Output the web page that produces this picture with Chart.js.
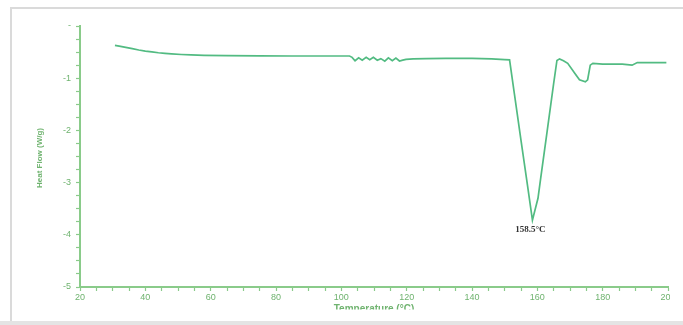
<!DOCTYPE html>
<html>
<head>
<meta charset="utf-8">
<script src="https://cdn.jsdelivr.net/npm/chart.js@4/dist/chart.umd.min.js"></script>
<style>
  html, body { margin: 0; padding: 0; background: #ffffff; }
  #wrap { position: relative; width: 683px; height: 325px; }
  canvas { display: block; }
</style>
</head>
<body>
<div id="wrap"><canvas id="dsc" width="683" height="325"></canvas></div>
<script>
// DSC thermogram: heat flow vs temperature
const temperatures = [
  30.7, 32, 34, 36, 38, 40, 42, 44, 46, 48, 51, 54, 58, 65, 75, 85, 95, 102.5,
  103.3, 104.2, 105.3, 106.4, 107.6, 108.7, 109.8, 111, 112.1, 113.3, 114.4, 115.6, 116.7, 117.8, 118.8, 119.8,
  122, 126, 132, 140, 146, 150, 151.5,
  153, 155, 157, 158.5, 160.2, 161, 163, 165, 166,
  166.8, 168, 169.3, 171.4, 172.9, 174.7, 175.4, 176.2, 177, 180, 186, 189, 190.6, 199.5
];
const heatFlow = [
  -0.37, -0.385, -0.41, -0.435, -0.46, -0.48, -0.497, -0.512, -0.524, -0.534, -0.546, -0.554, -0.562, -0.569, -0.574, -0.575, -0.575, -0.575,
  -0.60, -0.665, -0.61, -0.655, -0.60, -0.645, -0.60, -0.655, -0.625, -0.675, -0.61, -0.665, -0.615, -0.67, -0.655, -0.64,
  -0.63, -0.625, -0.62, -0.62, -0.63, -0.645, -0.65,
  -1.31, -2.19, -3.06, -3.72, -3.30, -2.93, -2.02, -1.10, -0.66,
  -0.63, -0.665, -0.715, -0.90, -1.03, -1.07, -1.03, -0.75, -0.715, -0.73, -0.73, -0.75, -0.70, -0.70
];
const xTickLabels = [20, 40, 60, 80, 100, 120, 140, 160, 180, 200];
const yTickLabels = { '0': '-', '-1': '-1', '-2': '-2', '-3': '-3', '-4': '-4', '-5': '-5' };
const peakTemperature = 158.5;
const peakLabel = '158.5°C';
const xTitle = 'Temperature (°C)';
const yTitle = 'Heat Flow (W/g)';

const axisGreen = '#8acb8a';
const labelGreen = '#6fb36f';
const lineGreen = '#52bb82';

const points = temperatures.map((t, i) => ({ x: t, y: heatFlow[i] }));

// page frame, cropped edges and annotations
const framePlugin = {
  id: 'frame',
  beforeDraw(chart) {
    const ctx = chart.ctx;
    ctx.save();
    ctx.fillStyle = '#ffffff';
    ctx.fillRect(0, 0, chart.width, chart.height);
    ctx.strokeStyle = '#dadada';
    ctx.lineWidth = 2;
    ctx.beginPath();
    ctx.moveTo(11, 322);
    ctx.lineTo(11, 8);
    ctx.lineTo(chart.width, 8);
    ctx.stroke();
    ctx.restore();
  },
  afterDraw(chart) {
    const ctx = chart.ctx;
    const xs = chart.scales.x, ys = chart.scales.y;
    ctx.save();
    // right-hand crop
    ctx.fillStyle = '#ffffff';
    ctx.fillRect(670, 9, chart.width - 670, 312);
    // bottom band
    ctx.fillStyle = '#e4e4e4';
    ctx.fillRect(0, 321, chart.width, chart.height - 321);
    // x-axis title, clipped at the bottom
    ctx.save();
    ctx.beginPath();
    ctx.rect(0, 0, chart.width, 309.5);
    ctx.clip();
    ctx.fillStyle = labelGreen;
    ctx.font = 'bold 10px "Liberation Sans", Arial, sans-serif';
    ctx.textAlign = 'center';
    ctx.textBaseline = 'alphabetic';
    ctx.fillText(xTitle, (chart.chartArea.left + chart.chartArea.right) / 2, 312);
    ctx.restore();
    // y-axis title
    ctx.save();
    ctx.translate(40, 158);
    ctx.rotate(-Math.PI / 2);
    ctx.fillStyle = labelGreen;
    ctx.font = 'bold 8px "Liberation Sans", Arial, sans-serif';
    ctx.textAlign = 'center';
    ctx.textBaseline = 'middle';
    ctx.fillText(yTitle, 0, 0);
    ctx.restore();
    // peak annotation
    const i = temperatures.indexOf(peakTemperature);
    const px = xs.getPixelForValue(peakTemperature);
    const py = ys.getPixelForValue(heatFlow[i]);
    ctx.fillStyle = '#333333';
    ctx.font = 'bold 9px "Liberation Serif", "DejaVu Serif", serif';
    ctx.textAlign = 'center';
    ctx.textBaseline = 'middle';
    ctx.fillText(peakLabel, px - 2, py + 9);
    ctx.restore();
  }
};

new Chart(document.getElementById('dsc'), {
  type: 'line',
  data: {
    datasets: [{
      data: points,
      borderColor: lineGreen,
      borderWidth: 1.7,
      pointRadius: 0,
      tension: 0,
      fill: false
    }]
  },
  options: {
    responsive: false,
    animation: false,
    layout: { padding: { left: 0, right: 15, top: 26, bottom: 0 } },
    plugins: { legend: { display: false }, tooltip: { enabled: false } },
    scales: {
      x: {
        type: 'linear',
        min: 20,
        max: 200,
        afterFit(scale) { scale.height = 38; },
        border: { color: axisGreen, width: 2 },
        grid: {
          drawOnChartArea: false,
          drawTicks: true,
          tickLength: 4,
          tickWidth: 1.2,
          tickColor: axisGreen
        },
        ticks: {
          stepSize: 5,
          autoSkip: false,
          maxRotation: 0,
          padding: 1,
          color: labelGreen,
          font: { size: 9, family: '"Liberation Sans", Arial, sans-serif' },
          callback(v) { return xTickLabels.includes(v) ? String(v) : ''; }
        }
      },
      y: {
        type: 'linear',
        min: -5,
        max: 0,
        afterFit(scale) { scale.width = 80; },
        border: { color: axisGreen, width: 2 },
        grid: {
          drawOnChartArea: false,
          drawTicks: true,
          tickLength: 4,
          tickWidth: 1.2,
          tickColor: axisGreen
        },
        ticks: {
          stepSize: 0.25,
          autoSkip: false,
          padding: 5,
          color: labelGreen,
          font: { size: 9, family: '"Liberation Sans", Arial, sans-serif' },
          callback(v) {
            const key = String(v);
            return Number.isInteger(v) ? (yTickLabels[key === '-0' ? '0' : key] || '') : '';
          }
        }
      }
    }
  },
  plugins: [framePlugin]
});
</script>
</body>
</html>
